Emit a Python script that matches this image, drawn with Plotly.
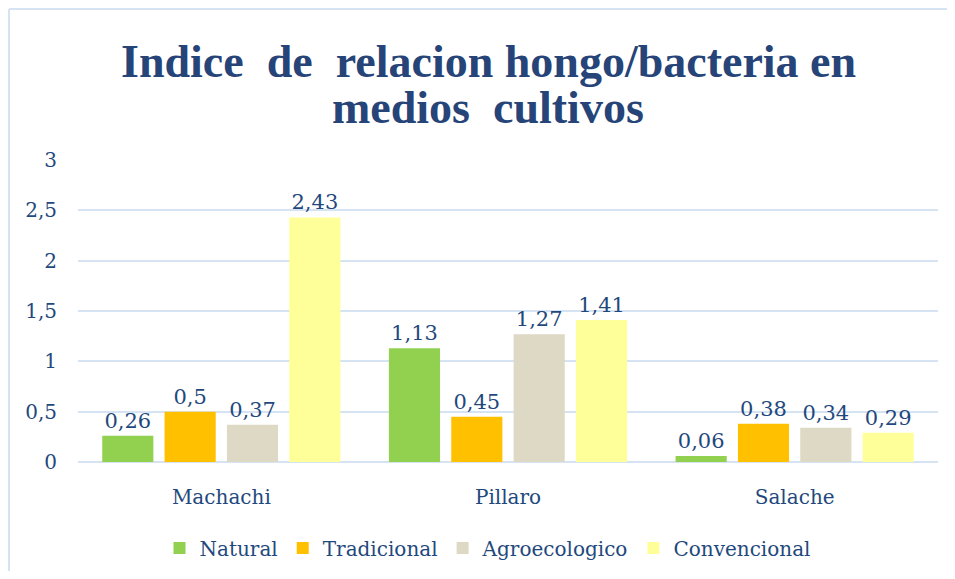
import plotly.graph_objects as go

categories = ["Machachi", "Pillaro", "Salache"]
natural = [0.26, 1.13, 0.06]
tradicional = [0.5, 0.45, 0.38]
agroecologico = [0.37, 1.27, 0.34]
convencional = [2.43, 1.41, 0.29]
y_ticks = [0, 0.5, 1, 1.5, 2, 2.5, 3]
y_tick_labels = ["0", "0,5", "1", "1,5", "2", "2,5", "3"]
title_lines = ["Indice  de  relacion hongo/bacteria en", "medios  cultivos"]

series = [
    ("Natural", natural, "#92D050"),
    ("Tradicional", tradicional, "#FFC000"),
    ("Agroecologico", agroecologico, "#DDD9C4"),
    ("Convencional", convencional, "#FFFF99"),
]

text_color = "#1F497D"
font_fam = "DejaVu Serif, Liberation Serif, serif"

# page body has an 8px margin; figure sized so the page needs no scrollbars
W, H = 939, 563
L, R, T, B = 70, 9, 152, 109
PW = W - L - R
PH = H - T - B
center_x = (480 - L) / PW  # visual centre of the chart box

fig = go.Figure()
for name, vals, color in series:
    fig.add_trace(go.Bar(
        name=name, x=categories, y=vals,
        marker=dict(color=color, line=dict(width=0)),
        text=[str(v).replace(".", ",") for v in vals],
        textposition="outside",
        textfont=dict(color=text_color, size=21, family=font_fam),
        cliponaxis=False,
    ))

annotations = []
for i, line in enumerate(title_lines):
    center_px = 53 + i * 46  # figure px from top
    annotations.append(dict(
        text="<b>" + line + "</b>", xref="paper", yref="paper",
        x=center_x, y=1 + (T - center_px) / PH,
        xanchor="center", yanchor="middle", showarrow=False,
        font=dict(family="Liberation Serif, serif", size=46, color="#264478"),
    ))

border_color = "#D6E3F3"
left_x = -(L - 1) / PW
top_y = 1 + (T - 1) / PH
fig.update_layout(
    width=W, height=H,
    paper_bgcolor="white", plot_bgcolor="white",
    margin=dict(l=L, r=R, t=T, b=B, autoexpand=False),
    barmode="group", bargap=0.13, bargroupgap=0.18,
    annotations=annotations,
    xaxis=dict(
        showgrid=False, showline=False, ticks="outside", ticklen=17,
        tickcolor="rgba(0,0,0,0)", automargin=False,
        tickfont=dict(family=font_fam, size=20, color=text_color),
    ),
    yaxis=dict(
        range=[0, 3], tickvals=y_ticks, ticktext=y_tick_labels,
        showgrid=True, gridcolor=border_color, gridwidth=2,
        zeroline=True, zerolinecolor=border_color, zerolinewidth=2,
        showline=False, ticks="outside", ticklen=16, tickcolor="rgba(0,0,0,0)",
        automargin=False,
        tickfont=dict(family=font_fam, size=20, color=text_color),
    ),
    legend=dict(
        orientation="h", x=center_x, xanchor="center", y=-(540 - T - PH) / PH,
        yanchor="middle",
        font=dict(family=font_fam, size=20, color=text_color),
        itemwidth=30, tracegroupgap=0,
    ),
    showlegend=True,
    shapes=[
        dict(type="line", xref="paper", yref="paper",
             x0=left_x, x1=left_x, y0=-(B + 20) / PH, y1=top_y,
             line=dict(color=border_color, width=2), layer="below"),
        dict(type="line", xref="paper", yref="paper",
             x0=left_x, x1=1 + (R + 10) / PW, y0=top_y, y1=top_y,
             line=dict(color=border_color, width=2), layer="below"),
    ],
)

fig.write_html("out.html")
